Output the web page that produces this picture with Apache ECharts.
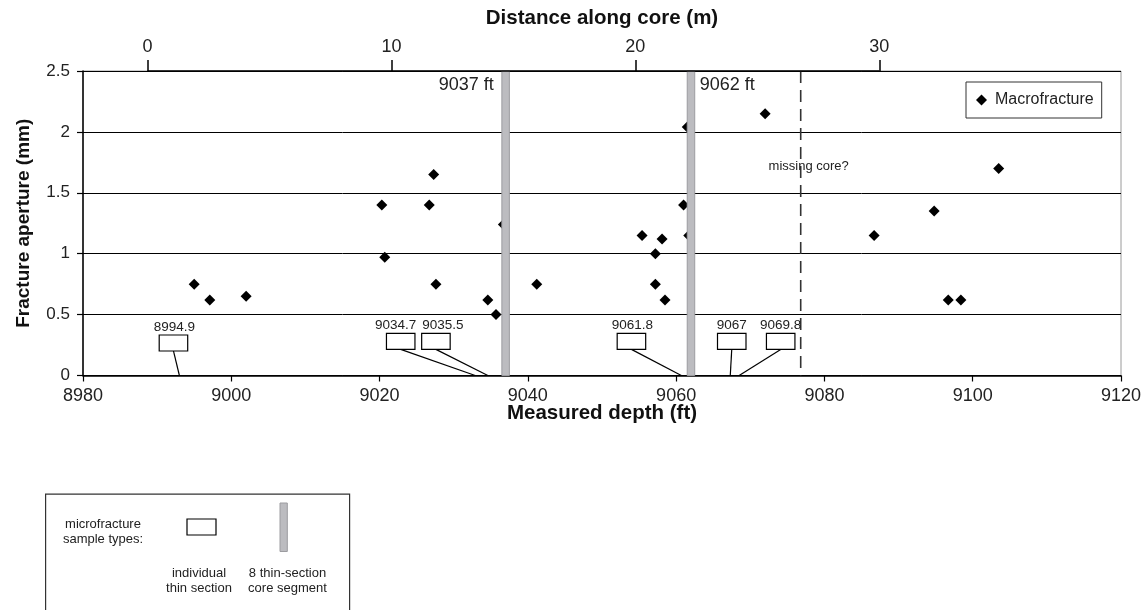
<!DOCTYPE html>
<html><head><meta charset="utf-8">
<script src="https://cdn.jsdelivr.net/npm/echarts@6/dist/echarts.min.js"></script>
<style>html,body{margin:0;padding:0;background:#fff}#c{width:1148px;height:610px}</style>
</head><body><div id="c"></div>
<script>
// ---- data ----
const macroDepth    = [8995.0, 8997.1, 9002.0, 9020.3, 9020.7, 9026.7, 9027.3, 9027.6, 9034.6, 9035.7, 9036.7, 9041.2,
                       9055.4, 9057.2, 9057.2, 9058.1, 9058.5, 9061.0, 9061.5, 9061.7, 9072.0, 9086.7, 9094.8, 9096.7, 9098.4, 9103.5];
const macroAperture = [0.75, 0.62, 0.65, 1.40, 0.97, 1.40, 1.65, 0.75, 0.62, 0.50, 1.24, 0.75,
                       1.15, 1.00, 0.75, 1.12, 0.62, 1.40, 2.04, 1.15, 2.15, 1.15, 1.35, 0.62, 0.62, 1.70];
const depthTicks = [8980, 9000, 9020, 9040, 9060, 9080, 9100, 9120];
const apertureTicks = [0, 0.5, 1, 1.5, 2, 2.5];
const distanceTicks = [0, 10, 20, 30];
const coreTopDepth = 8988.7;   // depth (ft) at 0 m along core
const ftPerMetre = 3.29;
const segmentDepths = [9037, 9062];
const segmentLabels = ['9037 ft', '9062 ft'];
const missingCoreDepth = 9076.8;
const missingCoreLabel = 'missing core?';
const sampleLabels = ['8994.9', '9034.7', '9035.5', '9061.8', '9067', '9069.8'];
const sampleBoxDepth = [8992.2, 9022.85, 9027.6, 9053.97, 9067.5, 9074.1];
const sampleBoxAperture = [0.267, 0.28, 0.28, 0.28, 0.28, 0.28];
const sampleLeaderDepth = [8993.0, 9032.9, 9034.6, 9060.7, 9067.3, 9068.5];

// ---- layout (pixel nudges for the sample labels) ----
const sampleLabelDx = [1, -5, 7, 1, 0, 0];

// ---- chart ----
const FONT = '"Liberation Sans", Arial, sans-serif';
const depthMin = depthTicks[0], depthMax = depthTicks[depthTicks.length - 1];
const distMin = (depthMin - coreTopDepth) / ftPerMetre;
const distMax = (depthMax - coreTopDepth) / ftPerMetre;
const yMax = apertureTicks[apertureTicks.length - 1];

const chart = echarts.init(document.getElementById('c'), null, {renderer: 'canvas'});
chart.setOption({
  animation: false,
  backgroundColor: '#fff',
  textStyle: {fontFamily: FONT},
  grid: {left: 83, right: 27, top: 71, height: 304.5, show: true, borderColor: '#9a9a9a', borderWidth: 1, backgroundColor: 'transparent'},
  legend: {
    data: ['Macrofracture'], left: 966, top: 82, padding: [10, 8, 10, 10],
    borderColor: '#333', borderWidth: 1, itemWidth: 11, itemHeight: 11, icon: 'diamond',
    itemStyle: {opacity: 1, color: '#000'},
    textStyle: {fontSize: 16, fontFamily: FONT, color: '#222', padding: [0, 0, 0, 3]}
  },
  xAxis: [{
    type: 'value', position: 'bottom', min: depthMin, max: depthMax, interval: 20,
    name: 'Measured depth (ft)', nameLocation: 'middle', nameGap: 27.5, nameMoveOverlap: false,
    nameTextStyle: {fontSize: 20.5, fontWeight: 'bold', color: '#111', fontFamily: FONT},
    axisLine: {show: true, onZero: false, lineStyle: {color: '#000', width: 1.5}},
    axisTick: {show: true, inside: false, length: 6, lineStyle: {color: '#000', width: 1.2}},
    axisLabel: {fontSize: 18, color: '#222', margin: 12, fontFamily: FONT, formatter: v => String(v)},
    splitLine: {show: false}
  }, {
    type: 'value', position: 'top', min: distMin, max: distMax,
    name: 'Distance along core (m)', nameLocation: 'middle', nameGap: 42, nameMoveOverlap: false,
    nameTextStyle: {fontSize: 20.5, fontWeight: 'bold', color: '#111', fontFamily: FONT},
    axisLine: {show: false, onZero: false},
    axisTick: {show: true, inside: false, length: 11, customValues: distanceTicks, lineStyle: {color: '#000', width: 1.5}},
    axisLabel: {fontSize: 18, color: '#222', margin: 15, customValues: distanceTicks, fontFamily: FONT, formatter: v => String(v)},
    splitLine: {show: false}
  }],
  yAxis: {
    type: 'value', min: 0, max: yMax, interval: 0.5,
    name: 'Fracture aperture (mm)', nameLocation: 'middle', nameGap: 50, nameMoveOverlap: false,
    nameTextStyle: {fontSize: 19, fontWeight: 'bold', color: '#111', fontFamily: FONT},
    axisLine: {show: true, onZero: false, lineStyle: {color: '#000', width: 1.5}},
    axisTick: {show: true, inside: false, length: 6, lineStyle: {color: '#000', width: 1.2}},
    axisLabel: {fontSize: 17, color: '#222', margin: 13, fontFamily: FONT},
    splitLine: {show: true, lineStyle: {color: '#000', width: 1}}
  },
  series: [{
    name: 'Macrofracture', type: 'scatter', xAxisIndex: 0, yAxisIndex: 0, z: 3,
    symbol: 'diamond', symbolSize: 11, itemStyle: {color: '#000', opacity: 1},
    data: macroDepth.map((d, i) => [d, macroAperture[i]])
  }, {
    name: 'coreAxis', type: 'line', xAxisIndex: 1, yAxisIndex: 0, z: 6, clip: false, silent: true,
    symbol: 'none', lineStyle: {color: '#000', width: 1.5},
    data: [[distanceTicks[0], yMax], [distanceTicks[distanceTicks.length - 1], yMax]]
  }, {
    name: 'segments', type: 'custom', xAxisIndex: 0, yAxisIndex: 0, z: 5, silent: true, clip: false,
    data: segmentDepths.map((d, i) => [d, i]),
    renderItem(params, api) {
      const d = api.value(0), i = api.value(1);
      const top = api.coord([d, yMax]), bot = api.coord([d, 0]);
      const w = 7.5;
      const left = i === 0;
      return {type: 'group', children: [
        {type: 'rect', shape: {x: top[0] - w / 2, y: top[1], width: w, height: bot[1] - top[1]},
         style: {fill: '#bcbcc0', stroke: '#9c9ca0', lineWidth: 1}},
        {type: 'text', style: {text: segmentLabels[i], x: left ? top[0] - w / 2 - 8 : top[0] + w / 2 + 5, y: top[1] + 14,
          align: left ? 'right' : 'left', verticalAlign: 'middle', font: '18px ' + FONT, fill: '#222'}}
      ]};
    }
  }, {
    name: 'missing', type: 'custom', xAxisIndex: 0, yAxisIndex: 0, z: 4, silent: true, clip: false,
    data: [[missingCoreDepth, 1.72]],
    renderItem(params, api) {
      const d = api.value(0);
      const top = api.coord([d, yMax]), bot = api.coord([d, 0]), lab = api.coord([d, api.value(1)]);
      return {type: 'group', children: [
        {type: 'line', shape: {x1: top[0], y1: top[1], x2: bot[0], y2: bot[1]},
         style: {stroke: '#333', lineWidth: 1.6, lineDash: [12, 7]}},
        {type: 'text', style: {text: missingCoreLabel, x: lab[0] + 8, y: lab[1], align: 'center', verticalAlign: 'middle',
          font: '13px ' + FONT, fill: '#222'}}
      ]};
    }
  }, {
    name: 'samples', type: 'custom', xAxisIndex: 0, yAxisIndex: 0, z: 4, silent: true, clip: false,
    data: sampleLabels.map((s, i) => [sampleBoxDepth[i], sampleBoxAperture[i], sampleLeaderDepth[i], i]),
    renderItem(params, api) {
      const c = api.coord([api.value(0), api.value(1)]);
      const end = api.coord([api.value(2), 0]);
      const i = api.value(3);
      const bw = 28.5, bh = 16;
      return {type: 'group', children: [
        {type: 'line', shape: {x1: c[0], y1: c[1] + bh / 2, x2: end[0], y2: end[1]}, style: {stroke: '#000', lineWidth: 1.2}},
        {type: 'rect', shape: {x: c[0] - bw / 2, y: c[1] - bh / 2, width: bw, height: bh}, style: {fill: '#fff', stroke: '#000', lineWidth: 1.2}},
        {type: 'text', style: {text: sampleLabels[i], x: c[0] + sampleLabelDx[i], y: c[1] - bh / 2 - 1, align: 'center', verticalAlign: 'bottom',
          font: '13.5px ' + FONT, fill: '#222'}}
      ]};
    }
  }],
  graphic: [
    {type: 'rect', left: 45, top: 493.5, shape: {width: 304, height: 140}, style: {fill: '#fff', stroke: '#333', lineWidth: 1.2}},
    {type: 'text', x: 103, y: 524, style: {text: 'microfracture', align: 'center', verticalAlign: 'middle', font: '13px ' + FONT, fill: '#222'}},
    {type: 'text', x: 103, y: 539.5, style: {text: 'sample types:', align: 'center', verticalAlign: 'middle', font: '13px ' + FONT, fill: '#222'}},
    {type: 'rect', shape: {x: 187, y: 519, width: 29, height: 16}, style: {fill: '#fff', stroke: '#000', lineWidth: 1.2}},
    {type: 'rect', shape: {x: 280, y: 503, width: 7.3, height: 48.5}, style: {fill: '#bcbcc0', stroke: '#9c9ca0', lineWidth: 1}},
    {type: 'text', x: 199, y: 573, style: {text: 'individual', align: 'center', verticalAlign: 'middle', font: '13px ' + FONT, fill: '#222'}},
    {type: 'text', x: 199, y: 588.5, style: {text: 'thin section', align: 'center', verticalAlign: 'middle', font: '13px ' + FONT, fill: '#222'}},
    {type: 'text', x: 287.5, y: 573, style: {text: '8 thin-section', align: 'center', verticalAlign: 'middle', font: '13px ' + FONT, fill: '#222'}},
    {type: 'text', x: 287.5, y: 588.5, style: {text: 'core segment', align: 'center', verticalAlign: 'middle', font: '13px ' + FONT, fill: '#222'}}
  ]
});
</script>
</body></html>
